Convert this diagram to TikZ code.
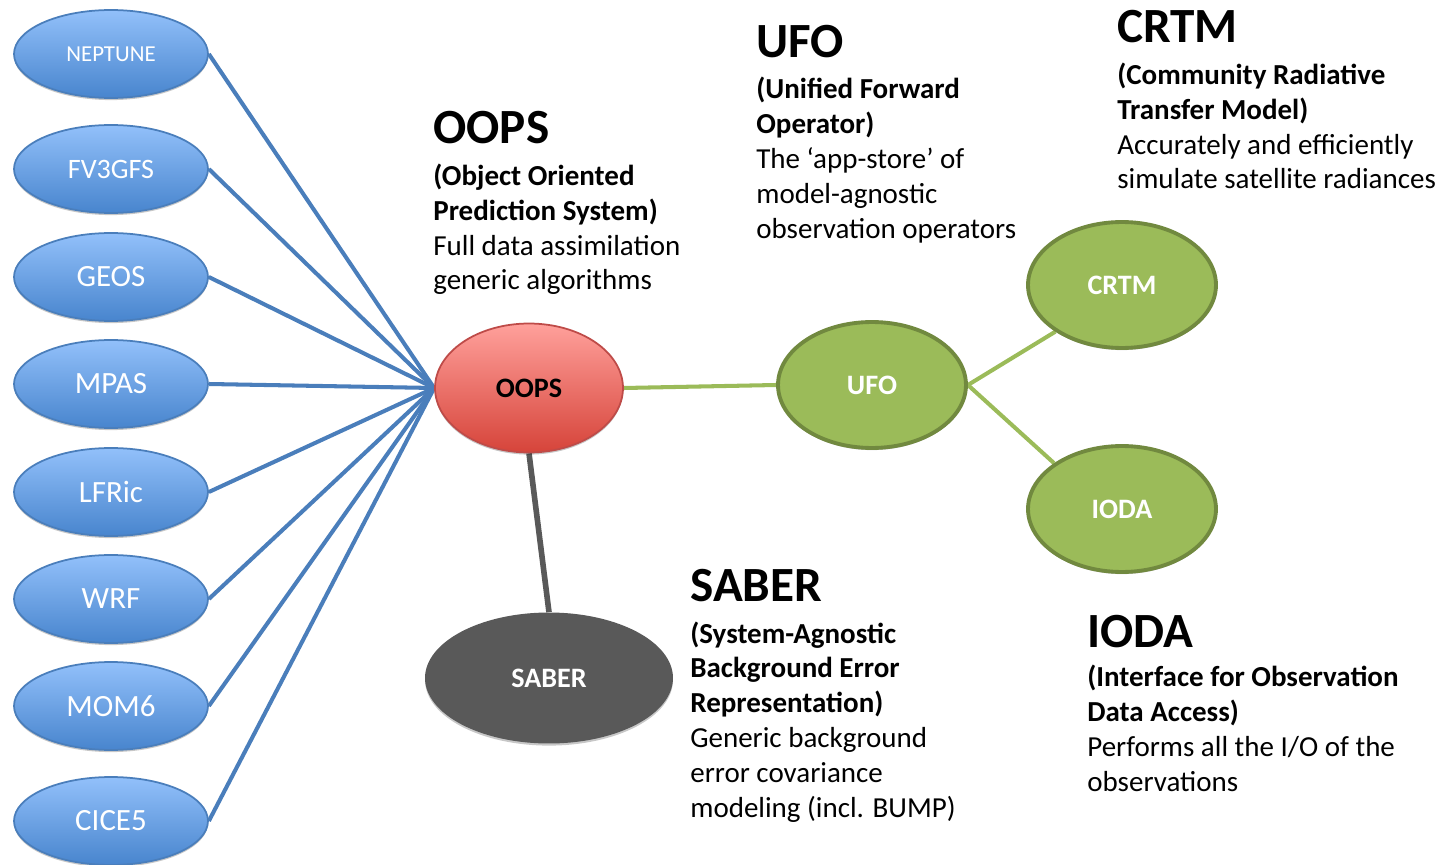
\documentclass[tikz,border=0pt]{standalone}
\usepackage{fontspec}
\setmainfont{Carlito}
\usetikzlibrary{positioning, shapes.geometric, shadows, backgrounds}
\definecolor{modelblue}{RGB}{74,126,187}
\definecolor{bluetop}{RGB}{146,192,250}
\definecolor{bluebot}{RGB}{72,133,206}
\definecolor{oopstop}{RGB}{255,160,155}
\definecolor{oopsbot}{RGB}{214,68,58}
\definecolor{oopsline}{RGB}{190,75,72}
\definecolor{ufogreen}{RGB}{155,187,89}
\definecolor{ufoline}{RGB}{113,137,63}
\definecolor{sabergray}{RGB}{89,89,89}
\tikzset{
  softshadow/.style={
    drop shadow={shadow xshift=0pt, shadow yshift=-1.2pt, opacity=0.22, fill=black}
  },
  model/.style={
    ellipse, draw=modelblue, line width=1pt,
    top color=bluetop, bottom color=bluebot,
    minimum width=3.88cm,
    minimum height=1.76cm,
    inner sep=0pt, text=white,
    font=\fontsize{17.6}{21}\selectfont,
    softshadow
  },
  oopsnode/.style={
    ellipse, draw=oopsline, line width=1pt,
    top color=oopstop, bottom color=oopsbot,
    minimum width=3.76cm,
    minimum height=2.58cm,
    inner sep=0pt,
    font=\fontsize{16}{19}\selectfont\bfseries,
    softshadow
  },
  obsnode/.style={
    ellipse, draw=ufoline, line width=2.2pt, fill=ufogreen,
    minimum width=3.76cm,
    minimum height=2.52cm,
    inner sep=0pt, text=white,
    font=\fontsize{16}{19}\selectfont\bfseries,
    softshadow
  },
  sabernode/.style={
    ellipse, fill=sabergray,
    minimum width=4.96cm,
    minimum height=2.62cm,
    inner sep=0pt, text=white,
    font=\fontsize{16}{19}\selectfont\bfseries,
    softshadow
  },
  title/.style={anchor=base west, inner sep=0pt, font=\fontsize{28}{34}\selectfont\bfseries},
  % base of a multi-line node = baseline of its last line
  desc/.style={anchor=base west, inner sep=0pt, align=left, font=\fontsize{16.5}{19.8}\selectfont},
  bluelink/.style={modelblue, line width=2.3pt},
  greenlink/.style={ufogreen, line width=2.3pt},
  graylink/.style={sabergray, line width=3.2pt}
}

\begin{document}
\begin{tikzpicture}[x=0.02cm, y=-0.02cm]
\useasboundingbox (0,0) rectangle (1445,865);

% models on the left
\node[model, font=\fontsize{13}{16}\selectfont] (neptune) at (111,54) {NEPTUNE};
\node[model, font=\fontsize{16}{19}\selectfont] (fv3gfs) at (111,169) {FV3GFS};
\node[model] (geos) at (111,277) {GEOS};
\node[model] (mpas) at (111,384) {MPAS};
\node[model] (lfric) at (111,492) {LFRic};
\node[model] (wrf) at (111,599) {WRF};
\node[model] (mom6) at (111,706) {MOM6};
\node[model] (cice5) at (111,821) {CICE5};

% JEDI components
\node[oopsnode] (oops) at (529,388) {OOPS};
\node[obsnode] (ufo) at (872,385) {UFO};
\node[obsnode] (crtm) at (1122,285) {CRTM};
\node[obsnode] (ioda) at (1122,509) {IODA};
\node[sabernode] (saber) at (549,678) {SABER};

% links (behind the nodes)
\begin{pgfonlayer}{background}
\foreach \m in {neptune, fv3gfs, geos, mpas, lfric, wrf, mom6, cice5}
  \draw[bluelink] (\m.east) -- (oops.west);
\draw[greenlink] (oops.east) -- (ufo.west);
\draw[greenlink] (ufo.east) -- (crtm.215);
\draw[greenlink] (ufo.east) -- (ioda.146);
\draw[graylink] (oops.south) -- (saber.north);
\end{pgfonlayer}

% descriptions
\node[title] (oopstitle) at (433,144) {OOPS};
\node[desc] (oopsdesc) at (433,290) {\textbf{(Object Oriented}\\\textbf{Prediction System)}\\Full data assimilation\\generic algorithms};

\node[title] (ufotitle) at (756,58) {UFO};
\node[desc] (ufodesc) at (756,238) {\textbf{(Unified Forward}\\\textbf{Operator)}\\The ‘app-store’ of\\model-agnostic\\observation operators};

\node[title] (crtmtitle) at (1117,43) {CRTM};
\node[desc] (crtmdesc) at (1117,189) {\textbf{(Community Radiative}\\\textbf{Transfer Model)}\\Accurately and efficiently\\simulate satellite radiances};

\node[title] (sabertitle) at (690,601) {SABER};
\node[desc] (saberdesc) at (690,817) {\textbf{(System-Agnostic}\\\textbf{Background Error}\\\textbf{Representation)}\\Generic background\\error covariance\\modeling (incl. BUMP)};

\node[title] (iodatitle) at (1087,647) {IODA};
\node[desc] (iodadesc) at (1087,791) {\textbf{(Interface for Observation}\\\textbf{Data Access)}\\Performs all the I/O of the\\observations};

\end{tikzpicture}
\end{document}
